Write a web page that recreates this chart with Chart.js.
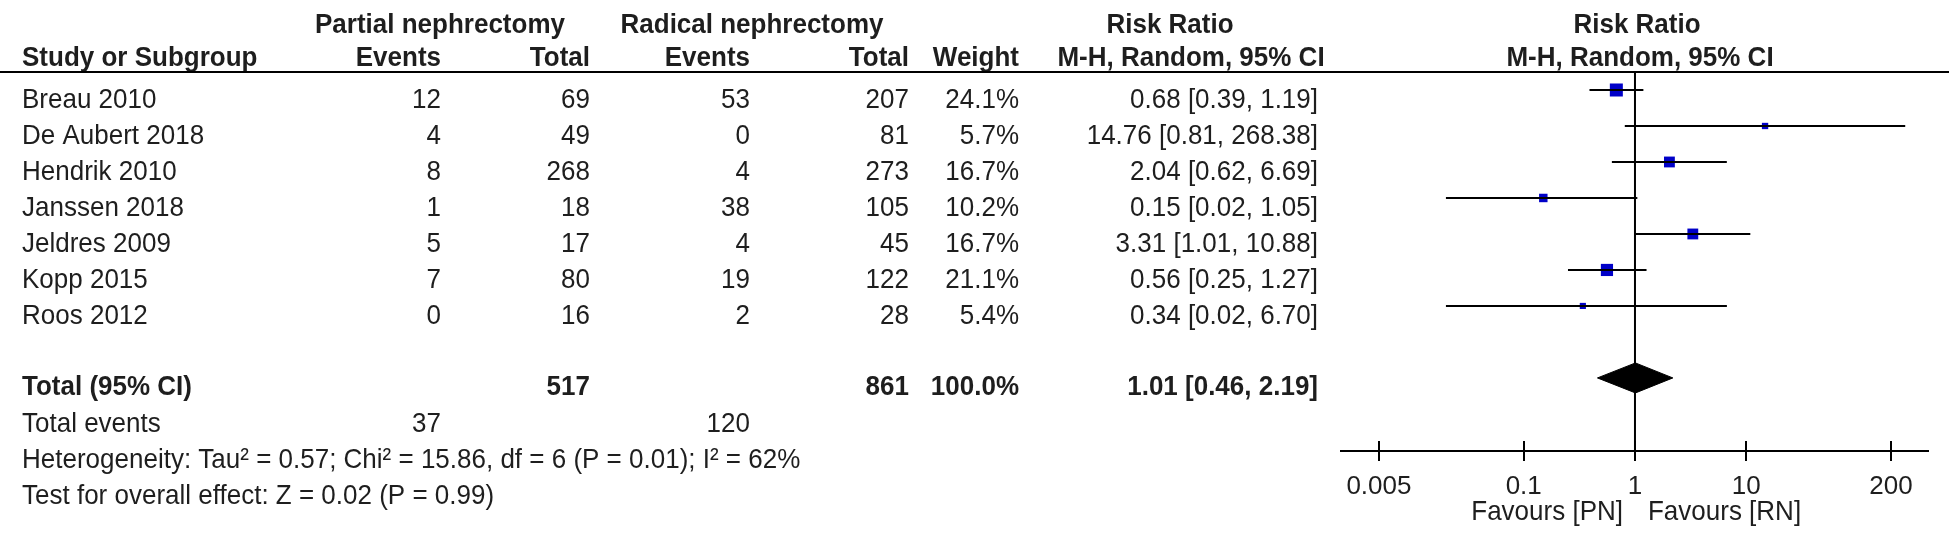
<!DOCTYPE html>
<html>
<head>
<meta charset="utf-8">
<script src="https://cdn.jsdelivr.net/npm/chart.js@4/dist/chart.umd.min.js"></script>
<style>
  html, body { margin: 0; padding: 0; background: #fff; }
  canvas { display: block; }
</style>
</head>
<body>
<canvas id="forestChart" width="1949" height="541"></canvas>
<script>
// Datos del forest plot
const studies = ['Breau 2010', 'De Aubert 2018', 'Hendrik 2010', 'Janssen 2018', 'Jeldres 2009', 'Kopp 2015', 'Roos 2012'];
const pnEvents = [12, 4, 8, 1, 5, 7, 0];
const pnTotal = [69, 49, 268, 18, 17, 80, 16];
const rnEvents = [53, 0, 4, 38, 4, 19, 2];
const rnTotal = [207, 81, 273, 105, 45, 122, 28];
const weights = [24.1, 5.7, 16.7, 10.2, 16.7, 21.1, 5.4];
const riskRatio = [0.68, 14.76, 2.04, 0.15, 3.31, 0.56, 0.34];
const ciLow = [0.39, 0.81, 0.62, 0.02, 1.01, 0.25, 0.02];
const ciHigh = [1.19, 268.38, 6.69, 1.05, 10.88, 1.27, 6.70];

const totalPn = 517;
const totalRn = 861;
const totalWeight = 100.0;
const totalRR = [1.01, 0.46, 2.19]; // estimación, IC inferior, IC superior
const totalEvents = [37, 120];
const heterogeneity = 'Heterogeneity: Tau² = 0.57; Chi² = 15.86, df = 6 (P = 0.01); I² = 62%';
const overallTest = 'Test for overall effect: Z = 0.02 (P = 0.99)';
const tickValues = [0.005, 0.1, 1, 10, 200];

const TEXT = '#1e1e1e';
const FONT = '"Liberation Sans", Arial, sans-serif';
const FS = 26;
const TOTAL_ROW = 8;

Chart.defaults.font.family = FONT;

function fmt2(v) { return v.toFixed(2); }
function ciText(rr, lo, hi) { return fmt2(rr) + ' [' + fmt2(lo) + ', ' + fmt2(hi) + ']'; }

// Texto de la tabla (columnas a la izquierda)
const tablePlugin = {
    id: 'forestTable',
    afterDraw(chart) {
        const ctx = chart.ctx;
        const ys = chart.scales.y;
        const xs = chart.scales.x;
        const area = chart.chartArea;
        const rowY = r => ys.getPixelForValue(r) + 10;

        // el texto del original esta algo estirado en vertical
        function txt(s, x, y, align, bold) {
            ctx.save();
            ctx.font = (bold ? 'bold ' : '') + FS + 'px ' + FONT;
            ctx.textAlign = align;
            ctx.translate(x, y);
            ctx.scale(1, 1.08);
            ctx.fillText(s, 0, 0);
            ctx.restore();
        }

        ctx.save();
        ctx.fillStyle = TEXT;
        ctx.textBaseline = 'middle';

        // cabeceras
        txt('Partial nephrectomy', 440, 25, 'center', true);
        txt('Radical nephrectomy', 752, 25, 'center', true);
        txt('Risk Ratio', 1170, 25, 'center', true);
        txt('Risk Ratio', 1637, 25, 'center', true);
        txt('Study or Subgroup', 22, 58, 'left', true);
        txt('Events', 441, 58, 'right', true);
        txt('Total', 590, 58, 'right', true);
        txt('Events', 750, 58, 'right', true);
        txt('Total', 909, 58, 'right', true);
        txt('Weight', 1019, 58, 'right', true);
        txt('M-H, Random, 95% CI', 1191, 58, 'center', true);
        txt('M-H, Random, 95% CI', 1640, 58, 'center', true);

        ctx.strokeStyle = '#000';
        ctx.lineWidth = 2;
        ctx.beginPath();
        ctx.moveTo(0, area.top);
        ctx.lineTo(chart.width, area.top);
        ctx.stroke();

        // estudios
        studies.forEach((s, i) => {
            const y = rowY(i);
            txt(s, 22, y, 'left');
            txt(String(pnEvents[i]), 441, y, 'right');
            txt(String(pnTotal[i]), 590, y, 'right');
            txt(String(rnEvents[i]), 750, y, 'right');
            txt(String(rnTotal[i]), 909, y, 'right');
            txt(weights[i].toFixed(1) + '%', 1019, y, 'right');
            txt(ciText(riskRatio[i], ciLow[i], ciHigh[i]), 1318, y, 'right');
        });

        // total
        const ty = rowY(TOTAL_ROW) - 1;
        txt('Total (95% CI)', 22, ty, 'left', true);
        txt(String(totalPn), 590, ty, 'right', true);
        txt(String(totalRn), 909, ty, 'right', true);
        txt(totalWeight.toFixed(1) + '%', 1019, ty, 'right', true);
        txt(ciText(totalRR[0], totalRR[1], totalRR[2]), 1318, ty, 'right', true);

        const ey = rowY(TOTAL_ROW + 1);
        txt('Total events', 22, ey, 'left');
        txt(String(totalEvents[0]), 441, ey, 'right');
        txt(String(totalEvents[1]), 750, ey, 'right');
        txt(heterogeneity, 22, rowY(TOTAL_ROW + 2), 'left');
        txt(overallTest, 22, rowY(TOTAL_ROW + 3), 'left');

        // marcas del eje que cruzan la linea
        ctx.beginPath();
        tickValues.forEach(v => {
            const px = Math.round(xs.getPixelForValue(v));
            ctx.moveTo(px, area.bottom - 10);
            ctx.lineTo(px, area.bottom + 10);
        });
        ctx.stroke();

        const one = xs.getPixelForValue(1);
        txt('Favours [PN]', one - 12, 512, 'right');
        txt('Favours [RN]', one + 13, 512, 'left');
        ctx.restore();
    }
};

const yMin = -0.5, yMax = 10.03;

const datasets = [];
// linea de no efecto
datasets.push({
    data: [{x: 1, y: yMin}, {x: 1, y: yMax}],
    showLine: true, borderColor: '#000', borderWidth: 2, pointRadius: 0
});
// intervalos de confianza
studies.forEach((s, i) => {
    datasets.push({
        data: [{x: ciLow[i], y: i}, {x: ciHigh[i], y: i}],
        showLine: true, borderColor: '#000', borderWidth: 2, pointRadius: 0
    });
});
// cuadrados (tamaño segun peso)
datasets.push({
    data: riskRatio.map((v, i) => ({x: v, y: i})),
    pointStyle: 'rect',
    pointRadius: weights.map(w => 2.65 * Math.sqrt(w) / Math.SQRT2),
    backgroundColor: '#0000c8', borderWidth: 0
});
// rombo del total
const dh = 15 / 36;
datasets.push({
    data: [
        {x: totalRR[1], y: TOTAL_ROW},
        {x: totalRR[0], y: TOTAL_ROW - dh},
        {x: totalRR[2], y: TOTAL_ROW},
        {x: totalRR[0], y: TOTAL_ROW + dh},
        {x: totalRR[1], y: TOTAL_ROW}
    ],
    showLine: true, fill: 'shape', backgroundColor: '#000', borderColor: '#000',
    borderWidth: 1, pointRadius: 0, tension: 0
});

const ctx = document.getElementById('forestChart').getContext('2d');
const forestChart = new Chart(ctx, {
    type: 'scatter',
    data: { datasets: datasets },
    options: {
        responsive: false,
        animation: false,
        devicePixelRatio: 1,
        layout: { padding: { left: 1341, right: 21, top: 72, bottom: 0 } },
        plugins: { legend: { display: false }, tooltip: { enabled: false } },
        scales: {
            x: {
                type: 'logarithmic',
                min: 0.00228,
                max: 430,
                grid: { display: false },
                border: { display: true, color: '#000', width: 2 },
                afterBuildTicks: scale => { scale.ticks = tickValues.map(v => ({ value: v })); },
                afterFit: scale => { scale.height = 90; },
                ticks: {
                    autoSkip: false, maxRotation: 0, padding: 12,
                    color: TEXT, font: { size: FS },
                    callback: v => String(v)
                }
            },
            y: {
                type: 'linear', display: false, reverse: true,
                min: yMin, max: yMax
            }
        }
    },
    plugins: [tablePlugin]
});
</script>
</body>
</html>
